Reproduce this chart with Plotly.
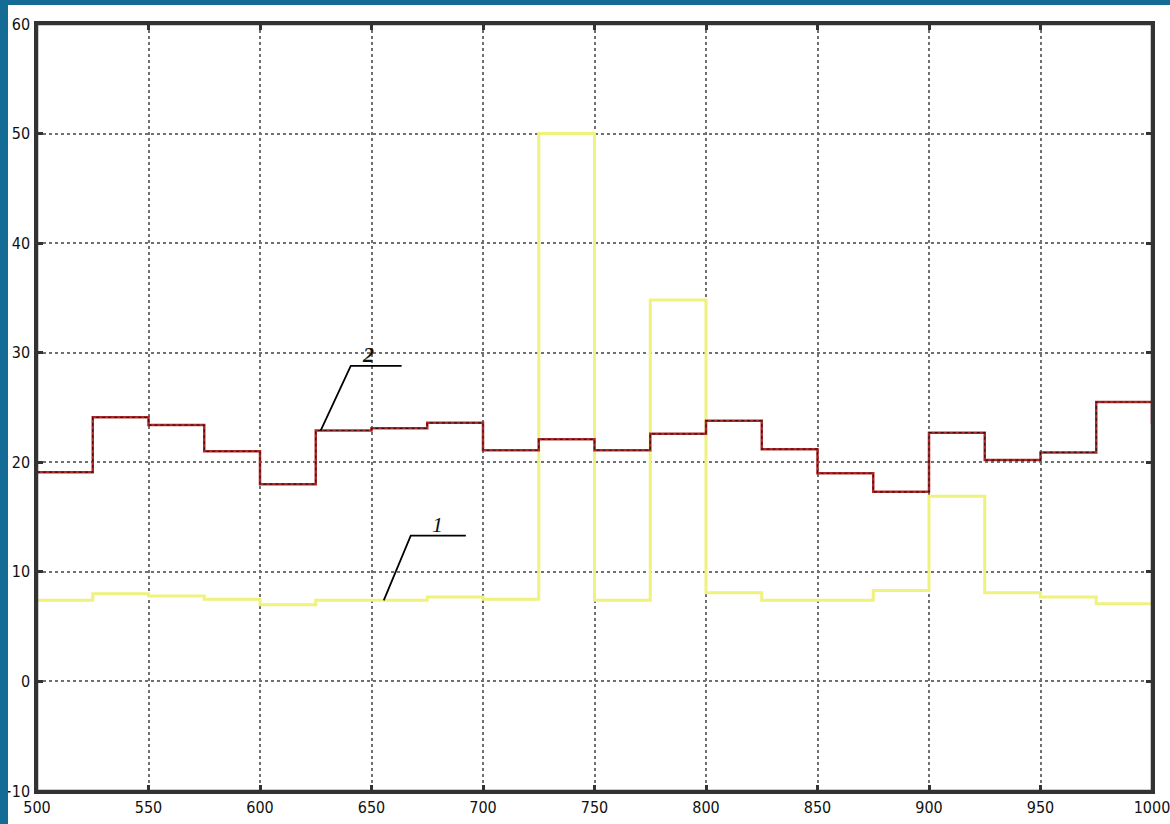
import plotly.graph_objects as go

# step boundaries (x) and levels
x_edges = [500, 525, 550, 575, 600, 625, 650, 675, 700, 725, 750,
           775, 800, 825, 850, 875, 900, 925, 950, 975, 1000]
series1 = [7.4, 8.0, 7.8, 7.5, 7.0, 7.4, 7.4, 7.7, 7.5, 50.0, 7.4,
           34.8, 8.1, 7.4, 7.4, 8.3, 16.9, 8.1, 7.7, 7.1, 7.1]
series2 = [19.1, 24.1, 23.4, 21.0, 18.0, 22.9, 23.1, 23.6, 21.1, 22.1, 21.1,
           22.6, 23.8, 21.2, 19.0, 17.3, 22.7, 20.2, 20.9, 25.5, 23.5]
x_ticks = [500, 550, 600, 650, 700, 750, 800, 850, 900, 950, 1000]
y_ticks = [-10, 0, 10, 20, 30, 40, 50, 60]

fig = go.Figure()
fig.add_trace(go.Scatter(x=x_edges, y=series1, mode="lines", line_shape="hv",
                         line=dict(color="#f0f27e", width=3), showlegend=False))
fig.add_trace(go.Scatter(x=x_edges, y=series2, mode="lines", line_shape="hv",
                         line=dict(color="#b02a2a", width=2.5), showlegend=False))
fig.add_trace(go.Scatter(x=x_edges, y=series2, mode="lines", line_shape="hv",
                         line=dict(color="#3a1010", width=1.2, dash="dot"), showlegend=False))

W, H = 1170, 824
ml, mr, mt, mb = 37, 18, 24, 33
pw, ph = W - ml - mr, H - mt - mb

shapes = [
    # blue frame strips
    dict(type="rect", xref="paper", yref="paper", x0=-ml / pw, x1=(8 - ml) / pw,
         y0=-mb / ph, y1=1 + mt / ph, fillcolor="#136b96", line_width=0, layer="above"),
    dict(type="rect", xref="paper", yref="paper", x0=-ml / pw, x1=1 + mr / pw,
         y0=1 + (mt - 5) / ph, y1=1 + mt / ph, fillcolor="#136b96", line_width=0, layer="above"),
    # plot frame
    dict(type="rect", xref="paper", yref="paper", x0=0, x1=1, y0=0, y1=1,
         line=dict(color="#333", width=2.5), fillcolor="rgba(0,0,0,0)", layer="above"),
    # leader for label 2
    dict(type="path", path="M 627.2,22.9 L 640.7,28.8 L 663.5,28.8",
         line=dict(color="black", width=1.8)),
    # leader for label 1
    dict(type="path", path="M 655.5,7.4 L 667.6,13.3 L 692.3,13.3",
         line=dict(color="black", width=1.8)),
]

axis_common = dict(showgrid=True, gridcolor="#707070", griddash="dot", gridwidth=2,
                   showline=True, linecolor="#333", linewidth=2.5, mirror="ticks",
                   ticks="inside", ticklen=6, tickcolor="#333", tickwidth=2.5,
                   zeroline=False, automargin=False, ticklabeloverflow="allow")

fig.update_layout(
    width=W, height=H,
    margin=dict(l=ml, r=mr, t=mt, b=mb),
    paper_bgcolor="white", plot_bgcolor="white",
    shapes=shapes,
    font=dict(family="DejaVu Sans Condensed, Liberation Sans Narrow, sans-serif",
              size=16, color="#111"),
    annotations=[
        dict(x=648.5, y=28.5, text="<b><i>2</i></b>", showarrow=False, yanchor="bottom",
             font=dict(family="Liberation Serif, serif", size=22, color="#111")),
        dict(x=679.5, y=13.0, text="<i>1</i>", showarrow=False, yanchor="bottom",
             font=dict(family="Liberation Serif, serif", size=22, color="#111")),
    ],
    xaxis=dict(range=[500, 1000], tickvals=x_ticks, ticklabelstandoff=0, **axis_common),
    yaxis=dict(range=[-10, 60], tickvals=y_ticks, ticklabelstandoff=1, **axis_common),
)

fig.write_html("out.html")
